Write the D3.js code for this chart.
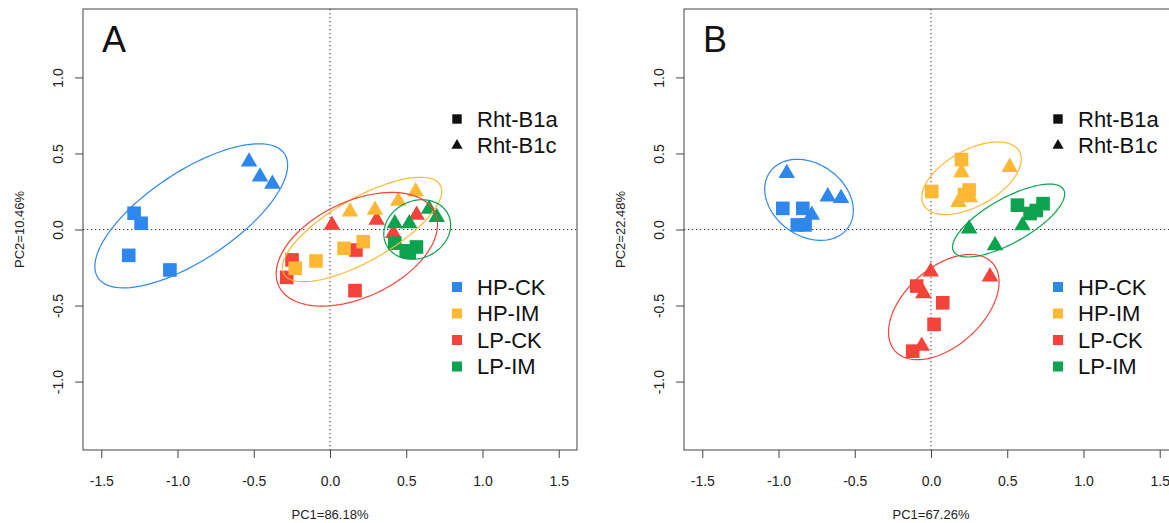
<!DOCTYPE html>
<html>
<head>
<meta charset="utf-8">
<script src="https://cdn.jsdelivr.net/npm/d3@7"></script>
<style>
  html, body { margin: 0; padding: 0; background: #fff; }
  svg { display: block; font-family: "Liberation Sans", Arial, sans-serif; }
</style>
</head>
<body>
<svg id="chart" width="1169" height="523"></svg>
<script>
// groups and their colours
const groups = ["HP-CK", "HP-IM", "LP-CK", "LP-IM"];
const groupColors = ["#2E87EC", "#FFB833", "#F4433A", "#0CA24E"];
const drawOrder = ["HP-CK", "LP-CK", "HP-IM", "LP-IM"];
const genotypes = ["Rht-B1a", "Rht-B1c"];   // square, triangle
const xTicks = [-1.5, -1.0, -0.5, 0.0, 0.5, 1.0, 1.5];
const yTicks = [-1.0, -0.5, 0.0, 0.5, 1.0];

// panel A scores: [PC1, PC2, group, genotype]
const scoresA = [
  [-1.285, 0.107, "HP-CK", "Rht-B1a"], [-1.239, 0.041, "HP-CK", "Rht-B1a"],
  [-1.320, -0.170, "HP-CK", "Rht-B1a"], [-1.050, -0.266, "HP-CK", "Rht-B1a"],
  [-0.531, 0.446, "HP-CK", "Rht-B1c"], [-0.459, 0.347, "HP-CK", "Rht-B1c"],
  [-0.378, 0.299, "HP-CK", "Rht-B1c"],
  [0.092, -0.124, "HP-IM", "Rht-B1a"], [0.218, -0.080, "HP-IM", "Rht-B1a"],
  [-0.092, -0.207, "HP-IM", "Rht-B1a"], [-0.228, -0.255, "HP-IM", "Rht-B1a"],
  [0.131, 0.117, "HP-IM", "Rht-B1c"], [0.295, 0.128, "HP-IM", "Rht-B1c"],
  [0.448, 0.188, "HP-IM", "Rht-B1c"], [0.562, 0.249, "HP-IM", "Rht-B1c"],
  [0.170, -0.135, "LP-CK", "Rht-B1a"], [-0.249, -0.200, "LP-CK", "Rht-B1a"],
  [-0.284, -0.315, "LP-CK", "Rht-B1a"], [0.164, -0.402, "LP-CK", "Rht-B1a"],
  [0.013, 0.030, "LP-CK", "Rht-B1c"], [0.306, 0.063, "LP-CK", "Rht-B1c"],
  [0.568, 0.095, "LP-CK", "Rht-B1c"], [0.415, -0.025, "LP-CK", "Rht-B1c"],
  [0.425, -0.090, "LP-IM", "Rht-B1a"], [0.500, -0.140, "LP-IM", "Rht-B1a"],
  [0.567, -0.115, "LP-IM", "Rht-B1a"], [0.520, -0.150, "LP-IM", "Rht-B1a"],
  [0.425, 0.040, "LP-IM", "Rht-B1c"], [0.520, 0.040, "LP-IM", "Rht-B1c"],
  [0.650, 0.135, "LP-IM", "Rht-B1c"], [0.700, 0.080, "LP-IM", "Rht-B1c"]
];

// panel B scores
const scoresB = [
  [-0.972, 0.139, "HP-CK", "Rht-B1a"], [-0.841, 0.139, "HP-CK", "Rht-B1a"],
  [-0.877, 0.030, "HP-CK", "Rht-B1a"], [-0.826, 0.030, "HP-CK", "Rht-B1a"],
  [-0.946, 0.370, "HP-CK", "Rht-B1c"], [-0.677, 0.216, "HP-CK", "Rht-B1c"],
  [-0.590, 0.205, "HP-CK", "Rht-B1c"], [-0.782, 0.095, "HP-CK", "Rht-B1c"],
  [0.200, 0.460, "HP-IM", "Rht-B1a"], [0.005, 0.250, "HP-IM", "Rht-B1a"],
  [0.250, 0.260, "HP-IM", "Rht-B1a"], [0.220, 0.230, "HP-IM", "Rht-B1a"],
  [0.200, 0.375, "HP-IM", "Rht-B1c"], [0.516, 0.410, "HP-IM", "Rht-B1c"],
  [0.180, 0.180, "HP-IM", "Rht-B1c"], [0.255, 0.210, "HP-IM", "Rht-B1c"],
  [-0.094, -0.372, "LP-CK", "Rht-B1a"], [0.077, -0.482, "LP-CK", "Rht-B1a"],
  [0.020, -0.624, "LP-CK", "Rht-B1a"], [-0.120, -0.800, "LP-CK", "Rht-B1a"],
  [-0.002, -0.278, "LP-CK", "Rht-B1c"], [0.387, -0.310, "LP-CK", "Rht-B1c"],
  [-0.050, -0.420, "LP-CK", "Rht-B1c"], [-0.061, -0.766, "LP-CK", "Rht-B1c"],
  [0.567, 0.160, "LP-IM", "Rht-B1a"], [0.735, 0.170, "LP-IM", "Rht-B1a"],
  [0.650, 0.105, "LP-IM", "Rht-B1a"], [0.690, 0.125, "LP-IM", "Rht-B1a"],
  [0.250, 0.005, "LP-IM", "Rht-B1c"], [0.600, 0.026, "LP-IM", "Rht-B1c"],
  [0.420, -0.105, "LP-IM", "Rht-B1c"]
];

// confidence ellipses: [group, centre PC1, centre PC2, semi-major, semi-minor, angle deg]
const ellipsesA = [
  ["HP-CK", -0.910, 0.090, 0.735, 0.290, 33.7],
  ["HP-IM", 0.210, 0.000, 0.590, 0.207, 29.7],
  ["LP-CK", 0.176, -0.130, 0.566, 0.315, 25.3],
  ["LP-IM", 0.572, 0.000, 0.226, 0.188, 26.0]
];
const ellipsesB = [
  ["HP-CK", -0.800, 0.195, 0.315, 0.237, -35.9],
  ["HP-IM", 0.266, 0.337, 0.360, 0.184, 29.4],
  ["LP-CK", 0.084, -0.510, 0.431, 0.256, 42.2],
  ["LP-IM", 0.509, 0.059, 0.414, 0.146, 29.4]
];

const panels = [
  { letter: "A", scores: scoresA, ellipses: ellipsesA, xTitle: "PC1=86.18%", yTitle: "PC2=10.46%", left: 83 },
  { letter: "B", scores: scoresB, ellipses: ellipsesB, xTitle: "PC1=67.26%", yTitle: "PC2=22.48%", left: 684 }
];

const svg = d3.select("#chart");
const color = d3.scaleOrdinal(groups, groupColors);
const boxW = 494, boxTop = 9, boxBottom = 450;
const fmt = d => d3.format(".1f")(d).replace("\u2212", "-");

panels.forEach(function (p) {
  const x = d3.scaleLinear().domain([-1.62, 1.62]).range([p.left, p.left + boxW]);
  const y = d3.scaleLinear().domain([-1.45, 1.45]).range([boxBottom, boxTop]);
  const g = svg.append("g");

  // axes (R style: ticks outside, labels below / rotated)
  const xa = g.append("g").attr("transform", "translate(0," + boxBottom + ")")
    .call(d3.axisBottom(x).tickValues(xTicks).tickFormat(fmt).tickSize(8).tickPadding(18));
  xa.select(".domain").remove();
  xa.selectAll("line").attr("stroke", "#444");
  xa.selectAll("text").attr("font-size", 14).attr("fill", "#222")
    .attr("font-family", "Liberation Sans, Arial, sans-serif");

  const ya = g.append("g").attr("transform", "translate(" + p.left + ",0)")
    .call(d3.axisLeft(y).tickValues(yTicks).tickSize(8).tickFormat(fmt));
  ya.select(".domain").remove();
  ya.selectAll("line").attr("stroke", "#444");
  ya.selectAll("text").attr("font-size", 14).attr("fill", "#222")
    .attr("font-family", "Liberation Sans, Arial, sans-serif")
    .attr("x", null).attr("dy", null)
    .attr("transform", "translate(-25,0) rotate(-90)")
    .attr("text-anchor", "middle").attr("dominant-baseline", "central");

  // axis titles
  g.append("text").attr("x", x(0)).attr("y", 519).attr("text-anchor", "middle")
    .attr("font-size", 13).attr("fill", "#222").text(p.xTitle);
  g.append("text").attr("transform", "translate(" + (p.left - 59) + "," + y(0) + ") rotate(-90)")
    .attr("text-anchor", "middle").attr("font-size", 13).attr("fill", "#222").text(p.yTitle);

  // zero reference lines
  g.append("line").attr("x1", x(-1.62)).attr("x2", x(1.62)).attr("y1", y(0)).attr("y2", y(0))
    .attr("stroke", "#333").attr("stroke-dasharray", "1.3,2.7");
  g.append("line").attr("x1", x(0)).attr("x2", x(0)).attr("y1", y(1.45)).attr("y2", y(-1.45))
    .attr("stroke", "#333").attr("stroke-dasharray", "1.3,2.7");

  // points
  const pts = p.scores.slice().sort((a, b) => drawOrder.indexOf(a[2]) - drawOrder.indexOf(b[2]));
  const tri = d3.symbol().type(d3.symbolTriangle).size(118);
  pts.forEach(function (d) {
    if (d[3] === genotypes[0]) {
      g.append("rect").attr("x", x(d[0]) - 6.8).attr("y", y(d[1]) - 6.8)
        .attr("width", 13.6).attr("height", 13.6).attr("fill", color(d[2]));
    } else {
      g.append("path").attr("d", tri).attr("transform", "translate(" + x(d[0]) + "," + y(d[1]) + ")")
        .attr("fill", color(d[2]));
    }
  });

  // ellipses
  const line = d3.line().x(d => x(d[0])).y(d => y(d[1])).curve(d3.curveLinearClosed);
  p.ellipses.forEach(function (e) {
    const th = e[5] * Math.PI / 180;
    const ring = d3.range(0, 360, 3).map(function (t) {
      const r = t * Math.PI / 180;
      const u = e[3] * Math.cos(r), v = e[4] * Math.sin(r);
      return [e[1] + u * Math.cos(th) - v * Math.sin(th), e[2] + u * Math.sin(th) + v * Math.cos(th)];
    });
    g.append("path").attr("d", line(ring)).attr("fill", "none")
      .attr("stroke", color(e[0])).attr("stroke-width", 1.2);
  });

  // box
  g.append("rect").attr("x", p.left).attr("y", boxTop).attr("width", boxW).attr("height", boxBottom - boxTop)
    .attr("fill", "none").attr("stroke", "#444").attr("stroke-width", 1);

  // panel letter
  g.append("text").attr("x", p.left + 19).attr("y", 52).attr("font-size", 36).attr("fill", "#111").text(p.letter);

  // legends
  const lx = p.left + boxW - 120;
  const legTri = d3.symbol().type(d3.symbolTriangle).size(55);
  genotypes.forEach(function (gt, i) {
    const cy = 119 + i * 26.5;
    if (i === 0) g.append("rect").attr("x", lx - 4.7).attr("y", cy - 4.7).attr("width", 9.4).attr("height", 9.4).attr("fill", "#111");
    else g.append("path").attr("d", legTri).attr("transform", "translate(" + lx + "," + cy + ")").attr("fill", "#111");
    g.append("text").attr("x", lx + 20).attr("y", cy).attr("dy", "0.36em")
      .attr("font-size", 22).attr("fill", "#111").text(gt);
  });
  groups.forEach(function (gr, i) {
    const cy = 287 + i * 26.5;
    g.append("rect").attr("x", lx - 5).attr("y", cy - 5).attr("width", 10).attr("height", 10).attr("fill", color(gr));
    g.append("text").attr("x", lx + 20).attr("y", cy).attr("dy", "0.36em")
      .attr("font-size", 22).attr("fill", "#111").text(gr);
  });
});
</script>
</body>
</html>
